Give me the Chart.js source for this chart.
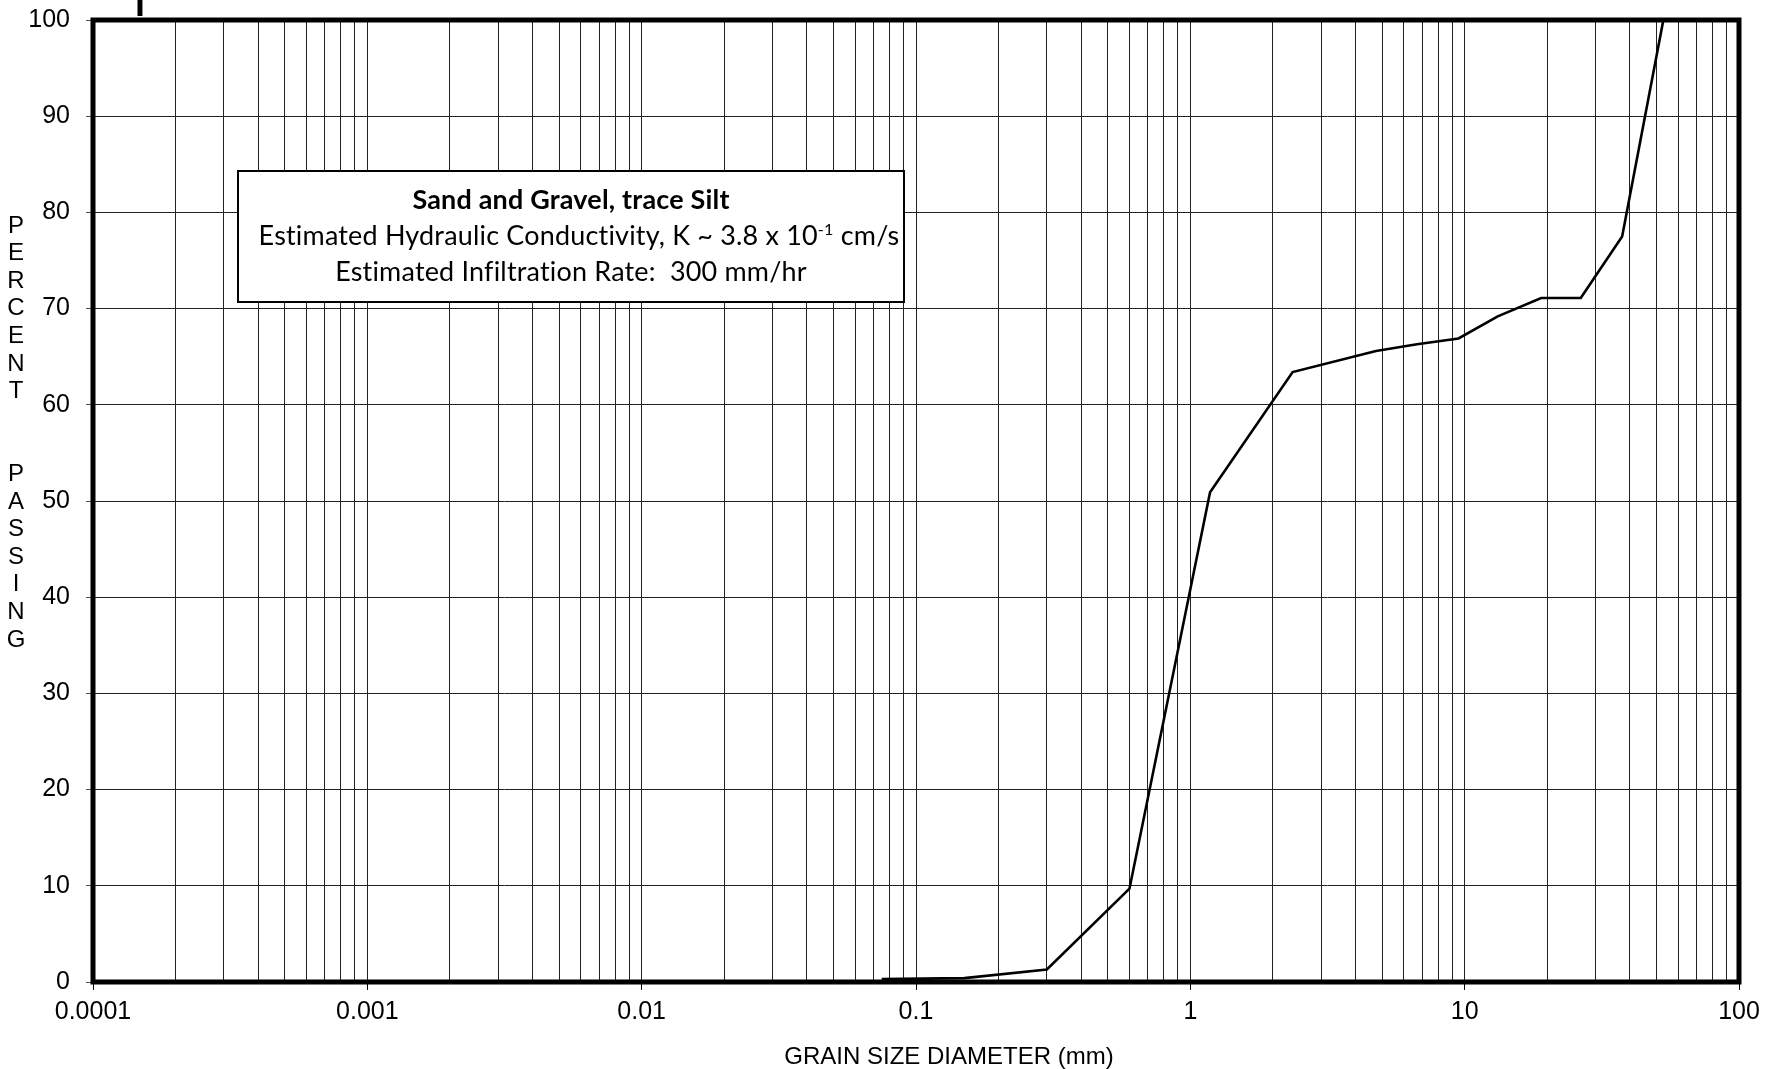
<!DOCTYPE html>
<html>
<head>
<meta charset="utf-8">
<script src="https://cdn.jsdelivr.net/npm/chart.js@4.4.1/dist/chart.umd.min.js"></script>
<style>
  html, body { margin: 0; padding: 0; background: #fff; }
  #wrap { width: 1765px; height: 1069px; }
</style>
</head>
<body>
<div id="wrap"><canvas id="grain-chart" width="1765" height="1069"></canvas></div>
<script>
// sieve analysis: grain size (mm) vs percent passing
const sieveSizes = [0.075, 0.15, 0.3, 0.6, 1.18, 2.36, 4.75, 6.7, 9.5, 13.2, 19, 26.5, 37.5, 53];
const percentPassing = [0.3, 0.4, 1.3, 9.7, 50.9, 63.4, 65.6, 66.3, 66.9, 69.2, 71.1, 71.1, 77.5, 100];

// x axis: decades with 2..9 minor lines
const decades = [0.0001, 0.001, 0.01, 0.1, 1, 10, 100];
const decadeLabels = ['0.0001', '0.001', '0.01', '0.1', '1', '10', '100'];
const minorSteps = [2, 3, 4, 5, 6, 7, 8, 9];

// y axis
const yMin = 0;
const yMax = 100;
const yStep = 10;

const xTitle = 'GRAIN SIZE DIAMETER (mm)';
const yTitle = 'PERCENT  PASSING';
const noteLines = [
    'Sand and Gravel, trace Silt',
    'Estimated Hydraulic Conductivity, K ~ 3.8 x 10',
    'Estimated Infiltration Rate:  300 mm/hr'
];
const noteSup = '-1';
const noteTail = ' cm/s';
const cutTitle = 'l';

const LABEL_FONT = '"Liberation Sans", Arial, sans-serif';
const NOTE_FONT = 'Lato, "Open Sans", sans-serif';

// tick list for the log axis
const xTicks = [];
decades.forEach((d, i) => {
    xTicks.push({ value: d, major: true, text: decadeLabels[i] });
    if (i < decades.length - 1) {
        minorSteps.forEach(m => xTicks.push({ value: d * m, major: false, text: '' }));
    }
});

// extra drawing: frame, axis titles, note box
const decorPlugin = {
    id: 'decor',
    afterDraw(chart) {
        const ctx = chart.ctx;
        const a = chart.chartArea;
        ctx.save();

        // heavy frame
        ctx.strokeStyle = '#000';
        ctx.lineWidth = 5;
        ctx.strokeRect(a.left, a.top, a.right - a.left, a.bottom - a.top);

        // cut-off title stroke at the very top
        ctx.fillStyle = '#000';
        ctx.font = 'bold 40px ' + NOTE_FONT;
        ctx.textAlign = 'left';
        ctx.textBaseline = 'alphabetic';
        ctx.fillText(cutTitle, 135, 16);

        // x axis title
        ctx.font = '24px ' + LABEL_FONT;
        ctx.textAlign = 'center';
        ctx.fillText(xTitle, 949, 1064);

        // y axis title, one letter per line
        ctx.textBaseline = 'middle';
        yTitle.split('').forEach((ch, i) => {
            if (ch !== ' ') ctx.fillText(ch, 16, 226 + i * 27.6);
        });

        // note box
        const bx = 238, by = 171, bw = 666, bh = 131;
        ctx.fillStyle = '#fff';
        ctx.fillRect(bx, by, bw, bh);
        ctx.strokeStyle = '#000';
        ctx.lineWidth = 2;
        ctx.strokeRect(bx, by, bw, bh);

        // small letter spacing keeps the ti / fi pairs apart
        ctx.letterSpacing = '0.2px';

        // fit note font to the measured width of the middle line
        ctx.font = '24px ' + NOTE_FONT;
        const probe = ctx.measureText(noteLines[1] + noteTail).width + 0.6 * ctx.measureText(noteSup).width;
        const fs = 24 * 642 / probe;
        const cx = bx + bw / 2;
        ctx.fillStyle = '#000';
        ctx.textBaseline = 'alphabetic';

        ctx.font = 'bold ' + fs + 'px ' + NOTE_FONT;
        ctx.textAlign = 'center';
        ctx.fillText(noteLines[0], cx, 209);

        // middle line with superscript (sits a little right of centre)
        ctx.font = fs + 'px ' + NOTE_FONT;
        const w1 = ctx.measureText(noteLines[1]).width;
        const w3 = ctx.measureText(noteTail).width;
        ctx.font = (fs * 0.6) + 'px ' + NOTE_FONT;
        const w2 = ctx.measureText(noteSup).width;
        let x = cx + 8 - (w1 + w2 + w3) / 2;
        ctx.textAlign = 'left';
        ctx.font = fs + 'px ' + NOTE_FONT;
        ctx.fillText(noteLines[1], x, 245);
        x += w1;
        ctx.font = (fs * 0.6) + 'px ' + NOTE_FONT;
        ctx.fillText(noteSup, x, 245 - fs * 0.36);
        x += w2;
        ctx.font = fs + 'px ' + NOTE_FONT;
        ctx.fillText(noteTail, x, 245);

        ctx.textAlign = 'center';
        ctx.fillText(noteLines[2], cx, 281);

        ctx.restore();
    }
};

const ctx = document.getElementById('grain-chart').getContext('2d');
const grainChart = new Chart(ctx, {
    type: 'line',
    data: {
        datasets: [{
            label: 'Percent passing',
            data: sieveSizes.map((s, i) => ({ x: s, y: percentPassing[i] })),
            borderColor: '#000',
            borderWidth: 2.6,
            pointRadius: 0,
            tension: 0,
            fill: false
        }]
    },
    options: {
        responsive: false,
        animation: false,
        devicePixelRatio: 1,
        layout: { padding: { left: 0, top: 20, right: 26, bottom: 0 } },
        plugins: {
            legend: { display: false },
            tooltip: { enabled: false }
        },
        scales: {
            x: {
                type: 'logarithmic',
                min: decades[0],
                max: decades[decades.length - 1],
                afterBuildTicks: scale => {
                    scale.ticks = xTicks.map(t => ({ value: t.value, major: t.major }));
                },
                afterFit: scale => {
                    scale.height = 87;
                    scale.paddingLeft = 0;
                    scale.paddingRight = 0;
                },
                ticks: {
                    autoSkip: false,
                    maxRotation: 0,
                    padding: 7,
                    color: '#000',
                    font: { family: LABEL_FONT, size: 25 },
                    callback: (value, index) => xTicks[index] ? xTicks[index].text : ''
                },
                grid: {
                    color: '#222',
                    lineWidth: 1,
                    tickLength: 8,
                    tickColor: c => (c.tick && c.tick.major) ? '#000' : 'rgba(0,0,0,0)'
                },
                border: { display: false }
            },
            y: {
                min: yMin,
                max: yMax,
                afterFit: scale => {
                    scale.width = 93;
                    scale.paddingTop = 0;
                    scale.paddingBottom = 0;
                },
                ticks: {
                    stepSize: yStep,
                    padding: 16,
                    color: '#000',
                    font: { family: LABEL_FONT, size: 25 }
                },
                grid: {
                    color: '#222',
                    lineWidth: 1,
                    tickLength: 7,
                    tickColor: '#555'
                },
                border: { display: false }
            }
        }
    },
    plugins: [decorPlugin]
});
</script>
</body>
</html>
